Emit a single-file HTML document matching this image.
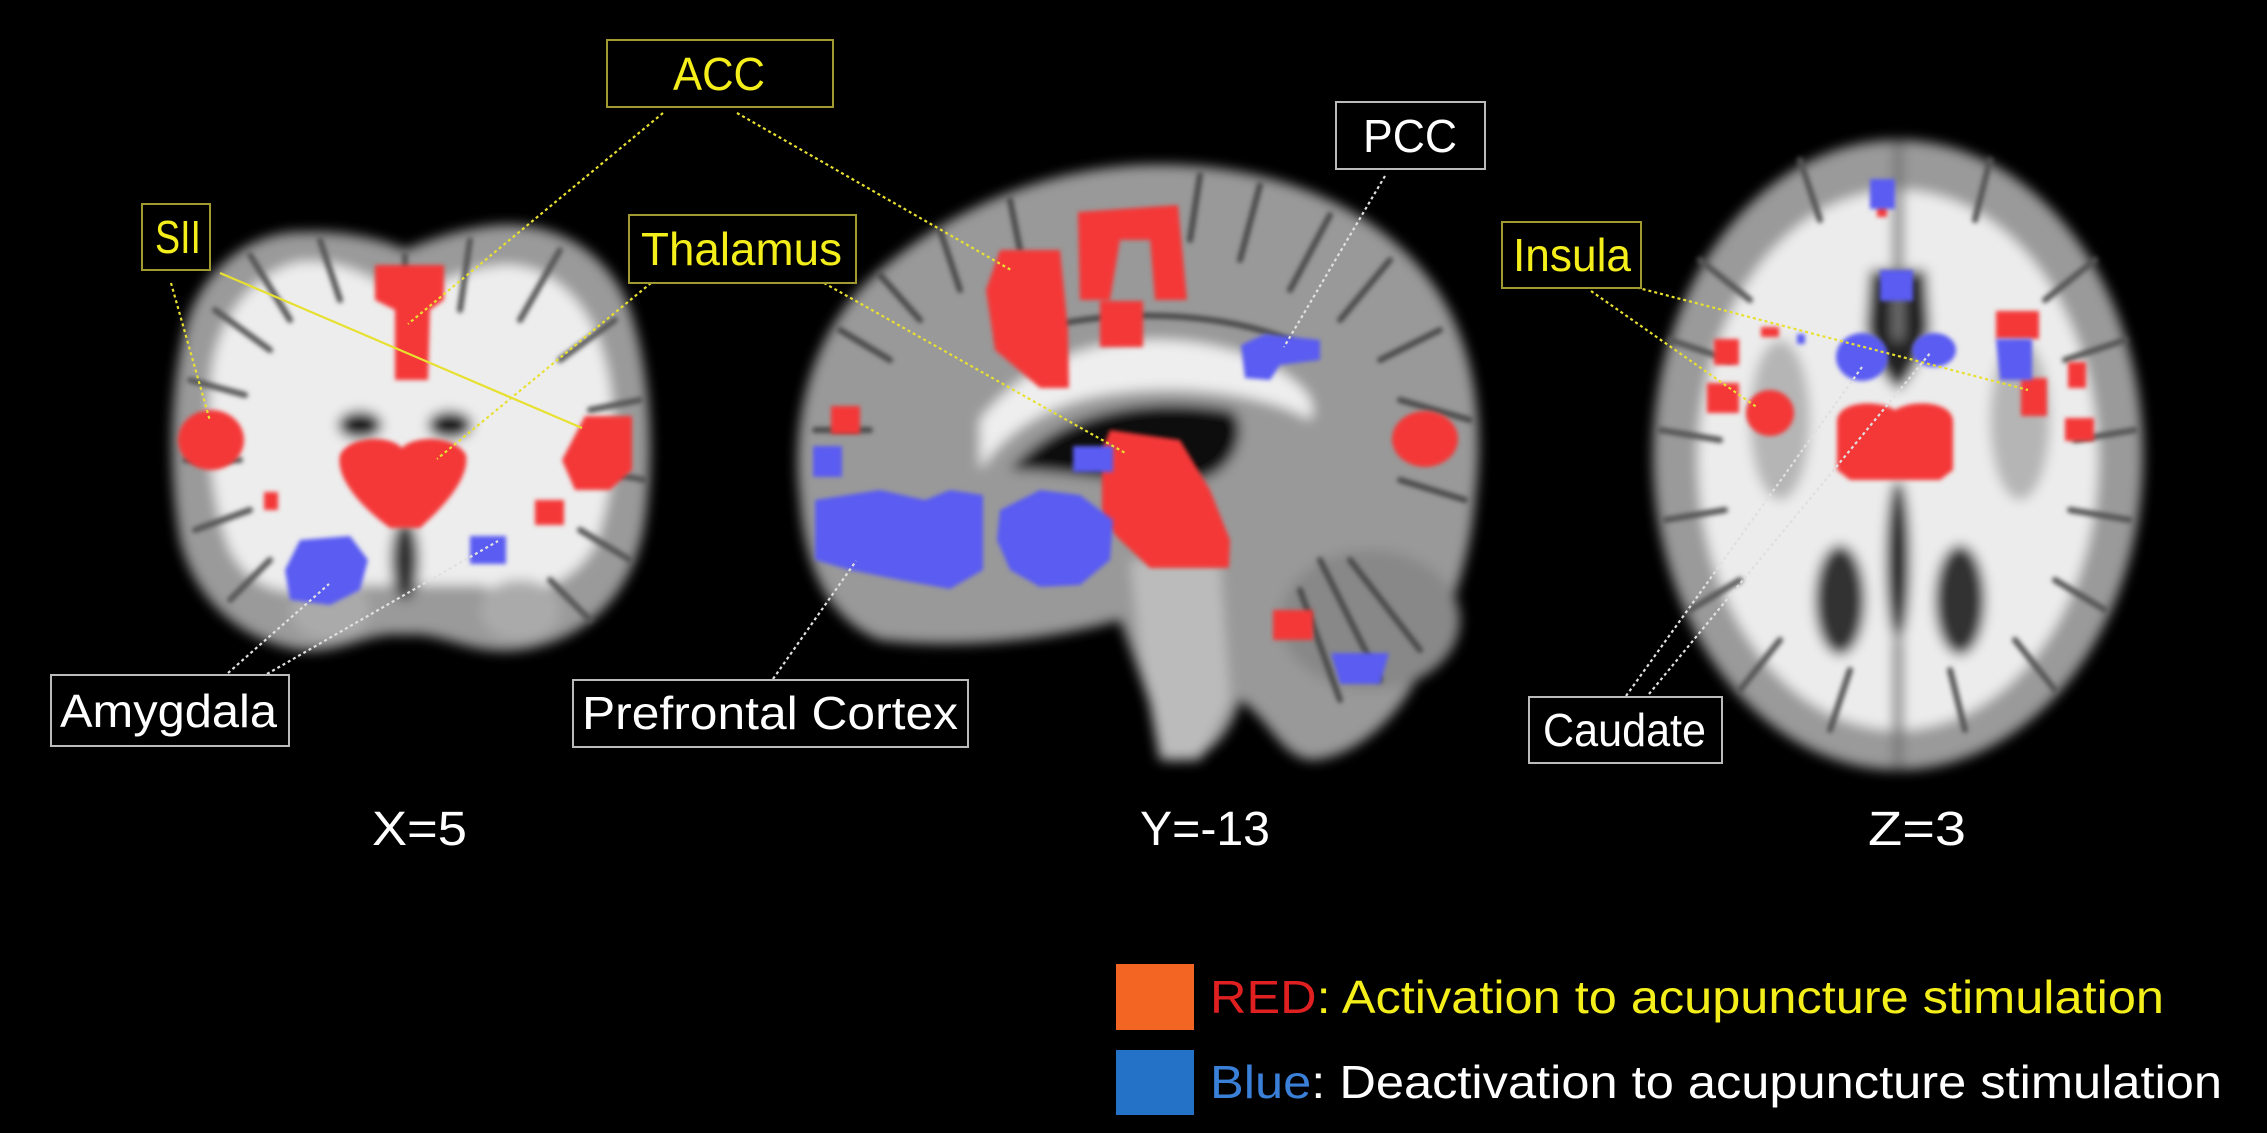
<!DOCTYPE html>
<html><head><meta charset="utf-8"><style>
html,body{margin:0;padding:0;background:#000;}
svg{display:block;}
text{font-family:"Liberation Sans",sans-serif;}
</style></head><body>
<svg width="2267" height="1133" viewBox="0 0 2267 1133" xmlns="http://www.w3.org/2000/svg">
<defs>
<filter id="b" x="-20%" y="-20%" width="140%" height="140%"><feGaussianBlur stdDeviation="6"/></filter>
<filter id="g" x="-20%" y="-20%" width="140%" height="140%"><feGaussianBlur stdDeviation="2.5"/></filter>
<filter id="s" x="-20%" y="-20%" width="140%" height="140%"><feGaussianBlur stdDeviation="2"/></filter>
</defs>
<rect width="2267" height="1133" fill="#000"/>

<!-- Coronal brain -->
<g filter="url(#b)">
<path d="M300,232 C250,232 200,270 185,330 C170,390 168,470 180,540 C195,600 240,640 300,650 C340,655 370,630 405,635 C440,630 470,656 520,650 C590,640 635,590 645,520 C655,450 650,370 630,310 C610,255 560,222 500,225 C460,228 430,240 405,250 C380,238 340,230 300,232Z" fill="#9a9a9a"/>
<path d="M300,262 C260,270 220,310 212,370 C205,430 210,500 230,550 C250,590 290,600 330,585 L480,585 C520,600 570,590 595,545 C615,490 620,420 605,360 C590,300 550,265 505,265 C470,268 440,280 405,300 C380,280 340,258 300,262Z" fill="#ededed"/>
<ellipse cx="360" cy="425" rx="22" ry="14" fill="#151515"/>
<ellipse cx="450" cy="425" rx="22" ry="14" fill="#151515"/>
<ellipse cx="405" cy="560" rx="14" ry="40" fill="#333"/>
<ellipse cx="330" cy="610" rx="40" ry="30" fill="#aaa"/>
<ellipse cx="520" cy="610" rx="40" ry="30" fill="#aaa"/>
</g>
<g filter="url(#g)" stroke="#555" stroke-width="6" fill="none" stroke-linecap="round">
<path d="M250,255 L290,320"/><path d="M320,240 L340,300"/><path d="M215,310 L270,350"/><path d="M190,380 L245,395"/>
<path d="M185,460 L240,460"/><path d="M195,530 L250,510"/><path d="M230,600 L270,560"/><path d="M405,255 L405,330"/>
<path d="M470,240 L460,310"/><path d="M560,250 L520,320"/><path d="M615,320 L560,360"/><path d="M640,400 L590,410"/>
<path d="M645,480 L590,470"/><path d="M630,560 L580,530"/><path d="M590,620 L550,580"/>
</g>

<!-- Sagittal brain -->
<g filter="url(#b)">
<path d="M800,500 C790,420 810,330 880,270 C950,210 1040,170 1140,165 C1260,160 1370,200 1430,280 C1475,340 1485,420 1475,500 C1470,560 1450,620 1420,670 C1400,720 1350,760 1310,760 C1280,755 1270,720 1240,700 C1230,740 1200,765 1170,760 L1120,620 C1050,640 960,650 880,640 C830,620 805,570 800,500Z" fill="#999"/>
<path d="M980,420 C1040,340 1160,320 1260,360 C1300,380 1320,400 1310,420 C1280,400 1180,375 1080,400 C1030,415 1000,440 980,470Z" fill="#eee"/>
<path d="M1010,470 C1060,410 1150,395 1230,410 C1250,420 1240,470 1200,480 C1150,490 1070,470 1010,470Z" fill="#111"/>
<path d="M1130,560 L1220,560 L1230,700 L1200,760 L1160,760 L1140,650Z" fill="#bbb"/>
<ellipse cx="1370" cy="620" rx="90" ry="70" fill="#888"/>
</g>
<g filter="url(#g)" stroke="#4a4a4a" stroke-width="6" fill="none" stroke-linecap="round">
<path d="M840,330 L890,360"/><path d="M880,275 L920,320"/><path d="M940,230 L960,290"/><path d="M1010,200 L1020,250"/>
<path d="M1200,175 L1190,240"/><path d="M1260,185 L1240,260"/><path d="M1330,215 L1290,290"/><path d="M1390,260 L1340,320"/>
<path d="M1440,330 L1380,360"/><path d="M1470,420 L1400,400"/><path d="M1465,500 L1400,480"/><path d="M815,430 L870,430"/>
<path d="M1000,340 C1080,310 1200,305 1290,340"/><path d="M1320,560 L1380,680"/><path d="M1350,560 L1420,650"/><path d="M1300,590 L1340,700"/>
</g>

<!-- Axial brain -->
<g filter="url(#b)">
<ellipse cx="1898" cy="455" rx="245" ry="315" fill="#9a9a9a"/>
<ellipse cx="1898" cy="460" rx="200" ry="270" fill="#ececec"/>
<path d="M1870,270 L1926,270 L1930,330 C1920,360 1910,380 1898,390 C1885,380 1875,360 1866,330Z" fill="#222"/>
<ellipse cx="1898" cy="560" rx="12" ry="80" fill="#222"/>
<ellipse cx="1840" cy="600" rx="25" ry="55" fill="#333"/>
<ellipse cx="1960" cy="600" rx="25" ry="55" fill="#333"/>
<ellipse cx="1780" cy="420" rx="30" ry="80" fill="#b5b5b5"/>
<ellipse cx="2020" cy="420" rx="30" ry="80" fill="#b5b5b5"/>
<rect x="1893" y="140" width="10" height="200" fill="#777"/>
<rect x="1893" y="640" width="10" height="130" fill="#777"/>
</g>
<g filter="url(#g)" stroke="#555" stroke-width="6" fill="none" stroke-linecap="round">
<path d="M1700,260 L1750,300"/><path d="M1670,340 L1730,360"/><path d="M1660,430 L1720,440"/><path d="M1665,520 L1725,510"/>
<path d="M1690,610 L1740,580"/><path d="M1740,690 L1780,640"/><path d="M1800,160 L1820,220"/><path d="M1990,160 L1975,220"/>
<path d="M2095,260 L2045,300"/><path d="M2125,340 L2065,360"/><path d="M2135,430 L2075,440"/><path d="M2130,520 L2070,510"/>
<path d="M2105,610 L2055,580"/><path d="M2055,690 L2015,640"/><path d="M1830,730 L1850,670"/><path d="M1965,730 L1950,670"/>
</g>

<!-- Blobs -->
<g filter="url(#s)" fill="#f43838">
<path d="M375,265 L444,265 L444,300 L430,310 L428,380 L395,380 L395,310 L375,300Z"/>
<path d="M340,455 C350,435 390,435 402,448 C414,435 455,435 466,455 C470,480 440,510 420,528 L390,528 C365,510 335,480 340,455Z"/>
<ellipse cx="211" cy="440" rx="33" ry="30"/>
<path d="M585,416 L632,416 L632,470 L610,490 L575,490 L562,460Z"/>
<rect x="264" y="492" width="14" height="18"/>
<rect x="535" y="500" width="29" height="25"/>
<path d="M1000,250 L1060,250 L1068,330 L1069,388 L1040,388 L995,350 L986,290Z"/>
<path d="M1078,212 L1178,205 L1187,300 L1155,300 L1150,240 L1120,240 L1110,300 L1080,300Z"/>
<rect x="1100" y="301" width="43" height="46"/>
<path d="M1110,430 L1180,440 L1210,490 L1230,540 L1229,568 L1150,568 L1120,540 L1102,520 L1102,450Z"/>
<ellipse cx="1425" cy="439" rx="33" ry="28"/>
<rect x="1273" y="610" width="40" height="30"/>
<rect x="831" y="406" width="29" height="28"/>
<rect x="1877" y="205" width="10" height="12"/>
<path d="M1837,420 C1840,400 1880,400 1895,410 C1910,400 1950,400 1953,420 L1953,470 L1940,480 L1850,480 L1837,470Z"/>
<ellipse cx="1770" cy="413" rx="24" ry="23"/>
<rect x="1707" y="383" width="32" height="30"/>
<rect x="1714" y="339" width="25" height="26"/>
<rect x="1761" y="327" width="18" height="10"/>
<rect x="1996" y="311" width="43" height="28"/>
<rect x="2021" y="378" width="26" height="38"/>
<rect x="2068" y="362" width="18" height="26"/>
<rect x="2065" y="418" width="29" height="23"/>
</g>
<g filter="url(#s)" fill="#5a5cf2">
<path d="M300,540 L350,536 L368,560 L360,590 L330,605 L290,600 L285,570Z"/>
<rect x="470" y="536" width="36" height="28"/>
<path d="M815,500 L880,490 L925,500 L950,490 L983,495 L983,570 L950,589 L900,580 L850,570 L815,560Z"/>
<path d="M1000,510 L1040,490 L1080,495 L1113,520 L1110,560 L1080,585 L1040,587 L1010,570 L997,540Z"/>
<rect x="813" y="446" width="29" height="31"/>
<rect x="1073" y="446" width="40" height="26"/>
<path d="M1241,345 L1265,334 L1320,340 L1320,360 L1280,365 L1270,380 L1245,378Z"/>
<path d="M1331,653 L1389,653 L1380,684 L1340,684Z"/>
<rect x="1870" y="179" width="25" height="30"/>
<rect x="1880" y="270" width="33" height="31"/>
<ellipse cx="1862" cy="357" rx="26" ry="24"/>
<ellipse cx="1934" cy="350" rx="22" ry="17"/>
<rect x="1797" y="334" width="8" height="10"/>
<path d="M1996,339 L2032,339 L2032,380 L2000,380Z"/>
</g>

<!-- Connector lines -->
<g stroke-width="2.2" fill="none">
<g stroke="#e8e030" stroke-dasharray="3,3">
<line x1="663" y1="113" x2="408" y2="324"/>
<line x1="737" y1="113" x2="1011" y2="270"/>
<line x1="171" y1="283" x2="210" y2="421"/>
<line x1="651" y1="283" x2="437" y2="459"/>
<line x1="824" y1="283" x2="1127" y2="454"/>
<line x1="1591" y1="291" x2="1758" y2="408"/>
<line x1="1631" y1="286" x2="2028" y2="390"/>
</g>
<line x1="220" y1="273" x2="582" y2="428" stroke="#e8e030"/>
<g stroke="#e0e0e0" stroke-dasharray="3,3">
<line x1="228" y1="673" x2="329" y2="584"/>
<line x1="267" y1="674" x2="498" y2="541"/>
<line x1="773" y1="679" x2="856" y2="561"/>
<line x1="1385" y1="176" x2="1284" y2="347"/>
<line x1="1626" y1="696" x2="1862" y2="367"/>
<line x1="1649" y1="694" x2="1931" y2="352"/>
</g>
</g>

<!-- Label boxes -->
<g fill="#000" stroke-width="2">
<rect x="607" y="40" width="226" height="67" stroke="#a09a30"/>
<rect x="142" y="204" width="68" height="66" stroke="#a09a30"/>
<rect x="629" y="215" width="227" height="68" stroke="#a09a30"/>
<rect x="1502" y="222" width="139" height="66" stroke="#a09a30"/>
<rect x="51" y="675" width="238" height="71" stroke="#bbb"/>
<rect x="573" y="680" width="395" height="67" stroke="#bbb"/>
<rect x="1336" y="102" width="149" height="67" stroke="#bbb"/>
<rect x="1529" y="697" width="193" height="66" stroke="#bbb"/>
</g>
<g font-size="46">
<text x="673" y="90" fill="#f4ee1a" textLength="92" lengthAdjust="spacingAndGlyphs">ACC</text>
<text x="155" y="253" fill="#f4ee1a" textLength="46" lengthAdjust="spacingAndGlyphs">SII</text>
<text x="641" y="265" fill="#f4ee1a" textLength="201" lengthAdjust="spacingAndGlyphs">Thalamus</text>
<text x="1513" y="271" fill="#f4ee1a" textLength="118" lengthAdjust="spacingAndGlyphs">Insula</text>
<text x="60" y="727" fill="#fff" textLength="217" lengthAdjust="spacingAndGlyphs">Amygdala</text>
<text x="582" y="729" fill="#fff" textLength="376" lengthAdjust="spacingAndGlyphs">Prefrontal Cortex</text>
<text x="1363" y="152" fill="#fff" textLength="94" lengthAdjust="spacingAndGlyphs">PCC</text>
<text x="1543" y="746" fill="#fff" textLength="163" lengthAdjust="spacingAndGlyphs">Caudate</text>
</g>

<g font-size="48" fill="#fff">
<text x="372" y="845" textLength="95" lengthAdjust="spacingAndGlyphs">X=5</text>
<text x="1140" y="845" textLength="130" lengthAdjust="spacingAndGlyphs">Y=-13</text>
<text x="1868" y="845" textLength="98" lengthAdjust="spacingAndGlyphs">Z=3</text>
</g>

<!-- Legend -->
<rect x="1116" y="964" width="78" height="66" fill="#f26522"/>
<rect x="1116" y="1050" width="78" height="65" fill="#2472c8"/>
<text x="1210" y="1013" font-size="46" textLength="954" lengthAdjust="spacingAndGlyphs"><tspan fill="#e02020">RED</tspan><tspan fill="#f4ee1a">: Activation to acupuncture stimulation</tspan></text>
<text x="1210" y="1098" font-size="46" textLength="1012" lengthAdjust="spacingAndGlyphs"><tspan fill="#3a7fd8">Blue</tspan><tspan fill="#fff">: Deactivation to acupuncture stimulation</tspan></text>
</svg>
</body></html>
